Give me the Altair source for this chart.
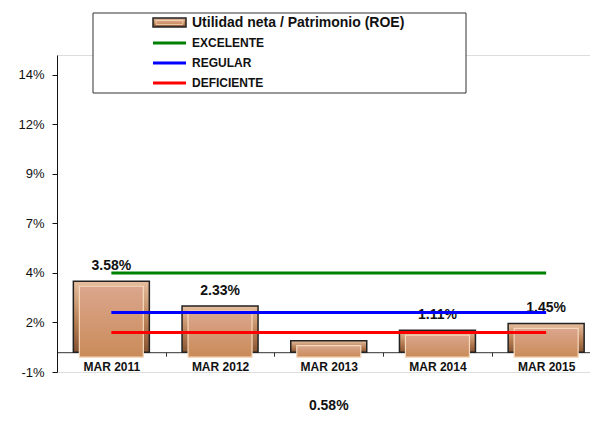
import altair as alt
import pandas as pd

# ---- data ----
categories = ["MAR 2011", "MAR 2012", "MAR 2013", "MAR 2014", "MAR 2015"]
roe = [0.0358, 0.0233, 0.0058, 0.0111, 0.0145]
bar_name = "Utilidad neta / Patrimonio (ROE)"
series_names = ["EXCELENTE", "REGULAR", "DEFICIENTE"]
series_levels = [0.04, 0.02, 0.01]
series_colors = ["#008000", "#0000FF", "#FF0000"]
y_tick_values = [-0.01, 0.015, 0.04, 0.065, 0.09, 0.115, 0.14]
y_tick_labels = ["-1%", "2%", "4%", "7%", "9%", "12%", "14%"]
low_label_category = "MAR 2013"

FONT = "Liberation Sans"
OX, OY = 57, 55          # plot origin on the page
W, H = 533, 317
STEP = 108.7

bars_df = pd.DataFrame({"cat": categories, "roe": roe})
lines_df = pd.DataFrame(
    [{"cat": c, "serie": s, "level": l}
     for s, l in zip(series_names, series_levels) for c in categories]
)

label_expr = "[{}][indexof([{}], datum.value)]".format(
    ",".join("'%s'" % t for t in y_tick_labels),
    ",".join(repr(v) for v in y_tick_values),
)

xs = alt.Scale(domain=categories, range=[0, STEP * 5], paddingInner=0, paddingOuter=0)
ys = alt.Scale(domain=[-0.01, 0.15], nice=False, zero=False)

x_enc = alt.X(
    "cat:N", scale=xs, sort=categories,
    axis=alt.Axis(title=None, labelAngle=0, offset=-19.8, tickBand="extent",
                  domainColor="#333", tickColor="#333", tickSize=4, labelPadding=5,
                  labelFont=FONT, labelFontSize=12, labelFontWeight="bold",
                  labelColor="#111", grid=False),
)
y_enc = alt.Y(
    "roe:Q", scale=ys,
    axis=alt.Axis(title=None, values=y_tick_values, labelExpr=label_expr,
                  domainColor="#111", tickColor="#111", tickSize=5, labelPadding=8,
                  labelFont=FONT, labelFontSize=13, labelColor="#111", grid=False),
)

outer_grad = alt.Gradient(
    gradient="linear", x1=0, x2=0, y1=0, y2=1,
    stops=[alt.GradientStop(color="#E6BE9E", offset=0),
           alt.GradientStop(color="#B57C52", offset=0.6),
           alt.GradientStop(color="#855332", offset=1)],
)
inner_grad = alt.Gradient(
    gradient="linear", x1=0, x2=0, y1=0, y2=1,
    stops=[alt.GradientStop(color="#DBA68E", offset=0),
           alt.GradientStop(color="#C98B58", offset=1)],
)

base = alt.Chart(bars_df)
bar_outer = base.mark_bar(size=76, fill=outer_grad, stroke="#222", strokeWidth=1.5).encode(
    x=x_enc, y=y_enc)
bar_inner = base.mark_bar(size=64, fill=inner_grad, stroke="#F6D9BC", strokeWidth=1.2,
                          yOffset=5, y2Offset=-5).encode(x=x_enc, y=y_enc)

labels = base.mark_text(font=FONT, fontSize=14, fontWeight="bold", color="#111",
                        dy=-15, baseline="middle").encode(
    x=x_enc, y=y_enc, text=alt.Text("roe:Q", format=".2%")
).transform_filter(alt.datum.cat != low_label_category)

low_label = base.mark_text(font=FONT, fontSize=14, fontWeight="bold", color="#111",
                           baseline="middle").encode(
    x=x_enc, y=alt.value(351), text=alt.Text("roe:Q", format=".2%")
).transform_filter(alt.datum.cat == low_label_category)

lines = alt.Chart(lines_df).mark_line(strokeWidth=3, strokeCap="butt").encode(
    x=x_enc,
    y=alt.Y("level:Q", scale=ys),
    color=alt.Color("serie:N", scale=alt.Scale(domain=series_names, range=series_colors),
                    legend=None),
    detail="serie:N",
)

# ---- legend box (drawn by hand to match the reference) ----
one = pd.DataFrame({"t": [0]})
legend_layers = [
    alt.Chart(one).mark_rect(fill="white", stroke="#333", strokeWidth=1).encode(
        x=alt.value(93 - OX), x2=alt.value(466 - OX),
        y=alt.value(13 - OY), y2=alt.value(93 - OY)),
    alt.Chart(one).mark_rect(fill=outer_grad, stroke="#222", strokeWidth=1.5).encode(
        x=alt.value(153 - OX), x2=alt.value(186 - OX),
        y=alt.value(18 - OY), y2=alt.value(27 - OY)),
    alt.Chart(one).mark_rect(fill=inner_grad, stroke="#F6D9BC", strokeWidth=0.8).encode(
        x=alt.value(156 - OX), x2=alt.value(183 - OX),
        y=alt.value(20.5 - OY), y2=alt.value(24.5 - OY)),
    alt.Chart(pd.DataFrame({"t": [bar_name]})).mark_text(
        font=FONT, fontSize=14, fontWeight="bold", color="#111", align="left",
        baseline="middle").encode(text="t:N", x=alt.value(192 - OX), y=alt.value(23 - OY)),
]
for i, (name, col) in enumerate(zip(series_names, series_colors)):
    row_y = 43 + 20 * i - OY
    legend_layers.append(
        alt.Chart(one).mark_rule(color=col, strokeWidth=3).encode(
            x=alt.value(153 - OX), x2=alt.value(186 - OX), y=alt.value(row_y)))
    legend_layers.append(
        alt.Chart(pd.DataFrame({"t": [name]})).mark_text(
            font=FONT, fontSize=12, fontWeight="bold", color="#111", align="left",
            baseline="middle").encode(text="t:N", x=alt.value(192 - OX), y=alt.value(row_y)))

chart = alt.layer(bar_outer, bar_inner, labels, low_label, lines, *legend_layers).properties(
    width=W, height=H,
    padding={"left": OX - 8, "top": OY - 8, "right": 0, "bottom": 415 - OY - H},
    autosize="none",
).configure_view(stroke=None).configure(background="white")

chart.save("out.html", embed_options={"renderer": "svg", "actions": False})
